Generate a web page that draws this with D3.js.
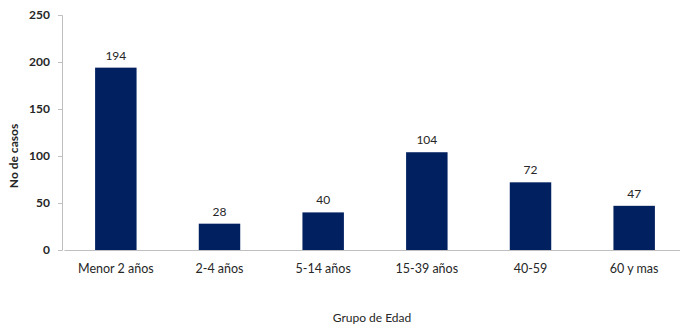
<!DOCTYPE html>
<html>
<head>
<meta charset="utf-8">
<script src="https://cdn.jsdelivr.net/npm/d3@7"></script>
<style>
  html, body { margin: 0; padding: 0; background: #fff; }
  svg { display: block; }
  text { font-family: Lato, "Open Sans", sans-serif; fill: #262626; }
</style>
</head>
<body>
<svg id="chart" width="680" height="329"></svg>
<script>
// Casos por grupo de edad
const categories = ["Menor 2 años", "2-4 años", "5-14 años", "15-39 años", "40-59", "60 y mas"];
const cases = [194, 28, 40, 104, 72, 47];
const yTicks = [0, 50, 100, 150, 200, 250];

const svg = d3.select("#chart");
const margin = { left: 62, top: 15, bottom: 79 };
const width = 680, height = 329;

const x = d3.scaleBand()
  .domain(categories)
  .range([64, 686])
  .paddingInner(0.6)
  .paddingOuter(0.3);

const y = d3.scaleLinear()
  .domain([0, 250])
  .range([height - margin.bottom, margin.top]);

// Y axis
const yAxis = svg.append("g")
  .attr("transform", `translate(${margin.left},0)`)
  .call(d3.axisLeft(y).tickValues(yTicks).tickSize(4).tickPadding(8));
yAxis.select(".domain").attr("stroke", "#bfbfbf");
yAxis.selectAll(".tick line").attr("stroke", "#bfbfbf");
yAxis.selectAll(".tick text")
  .style("font-size", "12px").style("font-weight", "bold").attr("fill", "#333333");

// Bars
svg.append("g").selectAll("rect")
  .data(cases)
  .join("rect")
  .attr("x", (d, i) => x(categories[i]))
  .attr("y", d => y(d))
  .attr("width", x.bandwidth())
  .attr("height", d => y(0) - y(d))
  .attr("fill", "#002060");

// X axis baseline and labels
const xAxis = svg.append("g")
  .attr("transform", `translate(${margin.left},${y(0)})`)
  .call(d3.axisBottom(x.copy().range([64 - margin.left, 686 - margin.left])).tickSize(0).tickPadding(14));
xAxis.select(".domain").attr("stroke", "#bfbfbf");
xAxis.selectAll(".tick text")
  .style("font-size", "12.5px").attr("fill", "#1a1a1a");

// Value labels
svg.append("g").selectAll("text")
  .data(cases)
  .join("text")
  .attr("x", (d, i) => x(categories[i]) + x.bandwidth() / 2)
  .attr("y", d => y(d) - 8)
  .attr("text-anchor", "middle")
  .style("font-size", "12px")
  .text(d => d);

// Axis titles
svg.append("text")
  .attr("x", 372).attr("y", 322)
  .attr("text-anchor", "middle")
  .style("font-size", "12px")
  .text("Grupo de Edad");

svg.append("text")
  .attr("transform", "translate(18,156) rotate(-90)")
  .attr("text-anchor", "middle")
  .style("font-size", "12px").style("font-weight", "bold")
  .text("No de casos");
</script>
</body>
</html>
